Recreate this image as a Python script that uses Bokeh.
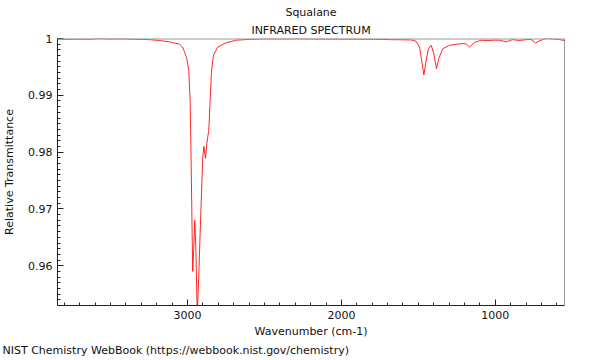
from bokeh.plotting import figure
from bokeh.models import Range1d, FixedTicker, CustomJSTickFormatter, Title, Span
from bokeh.embed import file_html
from bokeh.resources import INLINE

# ---- data ----
wavenumber = [3845, 3767, 3702, 3637, 3572, 3507, 3442, 3377, 3312, 3247,
              3182, 3117, 3085, 3052, 3033, 3020, 3005, 2992, 2983, 2976,
              2970, 2966, 2959, 2953, 2946, 2937, 2927, 2918, 2907, 2901,
              2894, 2883, 2875, 2862, 2853, 2844, 2831, 2803, 2749, 2684,
              2597, 2513, 2402, 2272, 2142, 2012, 1882, 1752, 1687, 1622,
              1557, 1538, 1514, 1492, 1479, 1464, 1449, 1434, 1416, 1400,
              1382, 1367, 1341, 1297, 1250, 1211, 1189, 1167, 1135, 1091,
              1048, 1005, 972, 929, 888, 843, 799, 767, 738, 712,
              669, 628, 583, 550]
transmittance = [0.9999, 0.99985, 0.9999, 0.99985, 1.0, 0.9999, 0.99995, 0.9999, 0.99985, 0.9998,
                 0.99965, 0.9994, 0.9992, 0.9990, 0.9985, 0.9977, 0.9965, 0.9944, 0.9891, 0.9775,
                 0.9657, 0.9590, 0.9634, 0.9680, 0.9634, 0.9515, 0.9580, 0.9657, 0.9745, 0.9790,
                 0.9810, 0.9789, 0.9815, 0.9838, 0.9890, 0.9944, 0.9971, 0.9985, 0.99924, 0.9997,
                 0.99985, 0.99993, 0.99993, 0.99995, 0.9999, 0.9999, 0.99988, 0.99985, 0.9998, 0.99978,
                 0.99975, 0.9997, 0.9995, 0.9985, 0.9962, 0.9936, 0.9962, 0.9982, 0.9988, 0.9974,
                 0.9947, 0.9965, 0.9982, 0.9988, 0.9990, 0.9991, 0.99905, 0.9985, 0.9993, 0.9997,
                 0.99965, 0.9997, 0.9997, 0.9994, 0.9998, 0.99965, 0.9998, 0.99985, 0.9992, 0.9996,
                 1.0, 0.99995, 0.9998, 0.99965]

x_ticks = [3000, 2000, 1000]
y_ticks = [0.96, 0.97, 0.98, 0.99, 1.0]
x_minor = list(range(600, 3900, 100))
y_minor = [round(0.953 + 0.001 * i, 3) for i in range(48)]

title_text = "Squalane"
subtitle_text = "INFRARED SPECTRUM"
x_label = "Wavenumber (cm-1)"
y_label = "Relative Transmittance"
footer_text = "NIST Chemistry WebBook (https://webbook.nist.gov/chemistry)"

FONT = "DejaVu Sans"
FS = "11px"
X_START, X_END = 3845, 550
Y_START, Y_END = 0.953, 1.0

p = figure(frame_width=507, frame_height=267,
           x_range=Range1d(X_START, X_END), y_range=Range1d(Y_START, Y_END),
           output_backend="svg", toolbar_location=None,
           min_border_left=53, min_border_right=16,
           min_border_top=38, min_border_bottom=38)
p.title = None
p.grid.visible = False
p.background_fill_color = "white"
p.border_fill_color = "white"
p.outline_line_color = None

p.line(wavenumber, transmittance, line_color="#ff0000", line_width=1, line_alpha=0.85)

# frame borders: gray top, dark right
p.add_layout(Span(location=Y_END, dimension="width", line_color="#9a9a9a", line_width=2))
p.add_layout(Span(location=X_END, dimension="height", line_color="#333333", line_width=1))

for ax in (p.xaxis[0], p.yaxis[0]):
    ax.axis_line_color = "#222222"
    ax.major_tick_in = 6
    ax.major_tick_out = 0
    ax.minor_tick_in = 3
    ax.minor_tick_out = 0
    ax.major_tick_line_color = "#222222"
    ax.minor_tick_line_color = "#222222"
    ax.major_label_text_font = FONT
    ax.major_label_text_font_size = FS
    ax.major_label_text_color = "#111111"
    ax.axis_label_text_font = FONT
    ax.axis_label_text_font_size = FS
    ax.axis_label_text_font_style = "normal"
    ax.axis_label_text_color = "#111111"
    ax.major_label_standoff = 5

p.xaxis[0].ticker = FixedTicker(ticks=x_ticks, minor_ticks=x_minor)
p.yaxis[0].ticker = FixedTicker(ticks=y_ticks, minor_ticks=y_minor)
p.yaxis[0].formatter = CustomJSTickFormatter(code="return tick >= 0.9995 ? '1' : tick.toFixed(2);")
p.xaxis[0].axis_label = x_label
p.yaxis[0].axis_label = y_label
p.xaxis[0].axis_label_standoff = 3
p.yaxis[0].axis_label_standoff = 9

t2 = Title(text=subtitle_text, align="center", text_font=FONT, text_font_size=FS,
           text_font_style="normal", text_color="#111111", standoff=3)
t1 = Title(text=title_text, align="center", text_font=FONT, text_font_size=FS,
           text_font_style="normal", text_color="#111111", standoff=4)
p.add_layout(t2, "above")
p.add_layout(t1, "above")

foot = Title(text=footer_text, align="left", text_font=FONT, text_font_size=FS,
             text_font_style="normal", text_color="#111111", standoff=3, offset=-55)
p.add_layout(foot, "below")

open("out.html", "w").write(file_html(p, INLINE))
